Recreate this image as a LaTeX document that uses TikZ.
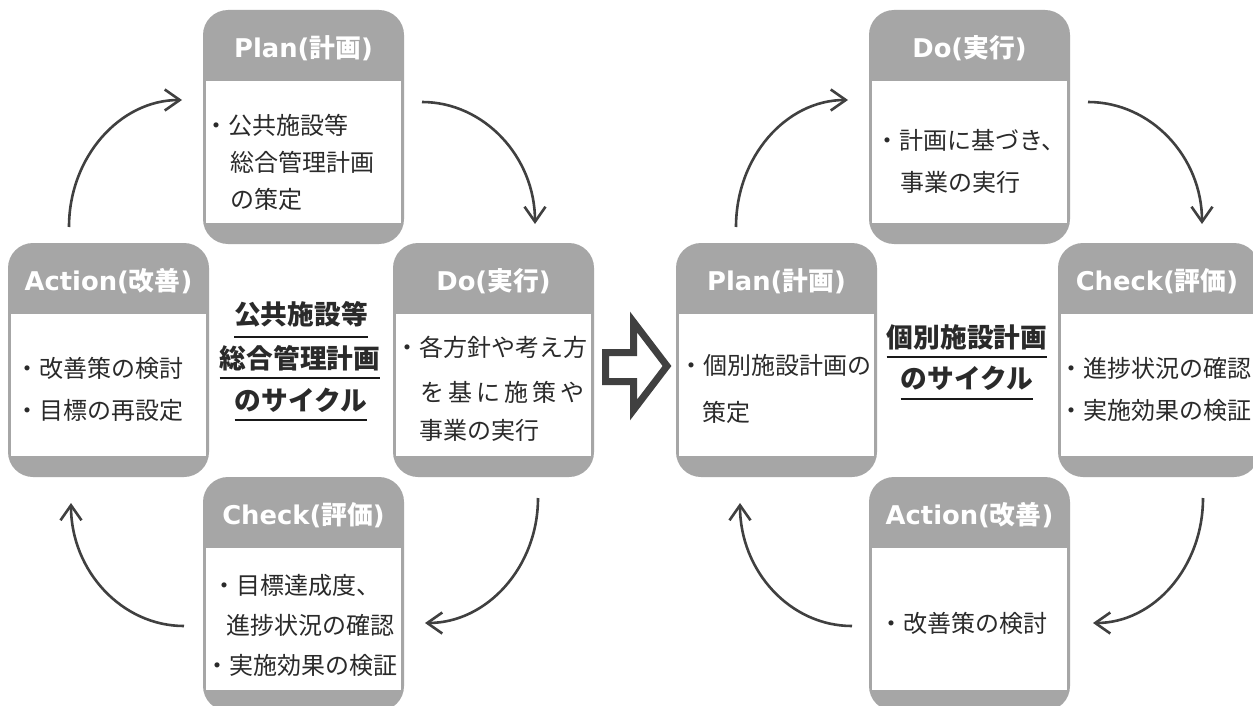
\documentclass[tikz,border=0pt]{standalone}
\usepackage{fontspec}
\usetikzlibrary{arrows.meta,calc}
\newfontfamily\cjk{Noto Sans CJK JP}
\newfontfamily\lat{DejaVu Sans}
\definecolor{boxgray}{HTML}{A6A6A6}
\definecolor{ink}{HTML}{2A2A2A}
\definecolor{arrowc}{HTML}{404040}
\newcommand\hd[2]{{\lat\bfseries #1(}{\cjk\bfseries #2}{\lat\bfseries )}}
\newcommand\panel[1]{\fill[white] ([xshift=3.5pt,yshift=-71pt]#1.north west) rectangle ([xshift=-3.5pt,yshift=21pt]#1.south east);}
\tikzset{
  pbox/.style={fill=boxgray, rounded corners=25pt, minimum width=201pt, minimum height=234pt, inner sep=0pt},
  hdtext/.style={text=white, font=\fontsize{25.8}{30}\selectfont, inner sep=0pt},
  body/.style={text=ink, font=\cjk\fontsize{24}{28}\selectfont, anchor=west, inner sep=0pt},
  ttl/.style={text=ink, font=\cjk\bfseries\fontsize{26.7}{32}\selectfont, inner sep=0pt},
  uline/.style={draw=black!90, line width=2pt},
  cyc/.style={draw=arrowc, line width=2.6pt, -{Straight Barb[length=15pt,width=21pt]}},
}
\begin{document}
\begin{tikzpicture}[x=1pt,y=-1pt]
\path[use as bounding box, clip] (0,0) rectangle (1253,706);
\fill[white] (0,0) rectangle (1253,706);

% ---------- left cycle boxes ----------
\node[pbox] (lp) at (303.5,127) {}; \panel{lp}
\node[pbox] (la) at (108.5,360) {}; \panel{la}
\node[pbox] (ld) at (493.5,360) {}; \panel{ld}
\node[pbox] (lc) at (303.5,594) {}; \panel{lc}

\node[hdtext] (lph) at (303.5,48) {\hd{Plan}{計画}};
\node[hdtext] (lah) at (108.5,281) {\hd{Action}{改善}};
\node[hdtext] (ldh) at (493.5,281) {\hd{Do}{実行}};
\node[hdtext] (lch) at (303.5,515) {\hd{Check}{評価}};

\node[body] (lp1) at (204,125) {・公共施設等};
\node[body] (lp2) at (230,162) {総合管理計画};
\node[body] (lp3) at (230,199) {の策定};

\node[body] (la1) at (15,368) {・改善策の検討};
\node[body] (la2) at (15,410) {・目標の再設定};

\node[body] (ld1) at (395,347) {・各方針や考え方};
\node[body] (ld2) at (420,392) {\makebox[164pt]{を\hfill 基\hfill に\hfill 施\hfill 策\hfill や}};
\node[body] (ld3) at (419,430) {事業の実行};

\node[body] (lc1) at (212,585) {・目標達成度、};
\node[body] (lc2) at (226,625) {進捗状況の確認};
\node[body] (lc3) at (205,665) {・実施効果の検証};

% left title
\node[ttl] (lt1) at (301,314) {公共施設等};
\node[ttl] (lt2) at (300,358) {総合管理計画};
\node[ttl] (lt3) at (301,400) {のサイクル};
\draw[uline] ([yshift=-23pt]lt1.west) -- ([yshift=-23pt]lt1.east);
\draw[uline] ([yshift=-20pt]lt2.west) -- ([yshift=-20pt]lt2.east);
\draw[uline] ([yshift=-20pt]lt3.west) -- ([yshift=-20pt]lt3.east);

% left cycle arrows
\coordinate (a1s) at (69,227);   \coordinate (a1e) at (182,100);
\coordinate (a2s) at (422,102);  \coordinate (a2e) at (535,224);
\coordinate (a3s) at (538,498);  \coordinate (a3e) at (425,623);
\coordinate (a4s) at (184,626);  \coordinate (a4e) at (71,503);
\draw[cyc] (a1s) .. controls +(0,-70) and +(-62,0) .. (a1e);
\draw[cyc] (a2s) .. controls +(62,0) and +(0,-67) .. (a2e);
\draw[cyc] (a3s) .. controls +(0,69) and +(62,0) .. (a3e);
\draw[cyc] (a4s) .. controls +(-62,0) and +(0,68) .. (a4e);

% hollow transition arrow
\draw[arrowc, line width=7pt, line join=miter, miter limit=10]
  (605.5,352.5) -- (633.5,352.5) -- (633.5,322) -- (667,366) -- (633.5,410) -- (633.5,381.5) -- (605.5,381.5) -- cycle;

% ---------- right cycle boxes ----------
\node[pbox] (rp) at (776.5,360) {}; \panel{rp}
\node[pbox] (rd) at (969.5,127) {}; \panel{rd}
\node[pbox] (rc) at (1158.5,360) {}; \panel{rc}
\node[pbox] (ra) at (969.5,594) {}; \panel{ra}

\node[hdtext] (rph) at (776.5,281) {\hd{Plan}{計画}};
\node[hdtext] (rdh) at (969.5,48) {\hd{Do}{実行}};
\node[hdtext] (rch) at (1157,281) {\hd{Check}{評価}};
\node[hdtext] (rah) at (969.5,515) {\hd{Action}{改善}};

\node[body] (rp1) at (679,365) {・個別施設計画の};
\node[body] (rp2) at (702,412) {策定};

\node[body] (rd1) at (875,140) {・計画に基づき、};
\node[body] (rd2) at (900,182) {事業の実行};

\node[body] (rc1) at (1059,368) {・進捗状況の確認};
\node[body] (rc2) at (1059,410) {・実施効果の検証};

\node[body] (ra1) at (879,623) {・改善策の検討};

% right title
\node[ttl] (rt1) at (967,337) {個別施設計画};
\node[ttl] (rt2) at (967,378) {のサイクル};
\draw[uline] ([yshift=-20pt]rt1.west) -- ([yshift=-20pt]rt1.east);
\draw[uline] ([yshift=-21pt]rt2.west) -- ([yshift=-21pt]rt2.east);

% right cycle arrows
\coordinate (b1s) at (736,227);   \coordinate (b1e) at (848,100);
\coordinate (b2s) at (1088,102);  \coordinate (b2e) at (1202,224);
\coordinate (b3s) at (1203,498);  \coordinate (b3e) at (1093,623);
\coordinate (b4s) at (852,626);   \coordinate (b4e) at (740,503);
\draw[cyc] (b1s) .. controls +(0,-70) and +(-62,0) .. (b1e);
\draw[cyc] (b2s) .. controls +(63,0) and +(0,-67) .. (b2e);
\draw[cyc] (b3s) .. controls +(0,69) and +(61,0) .. (b3e);
\draw[cyc] (b4s) .. controls +(-62,0) and +(0,68) .. (b4e);
\end{tikzpicture}
\end{document}
